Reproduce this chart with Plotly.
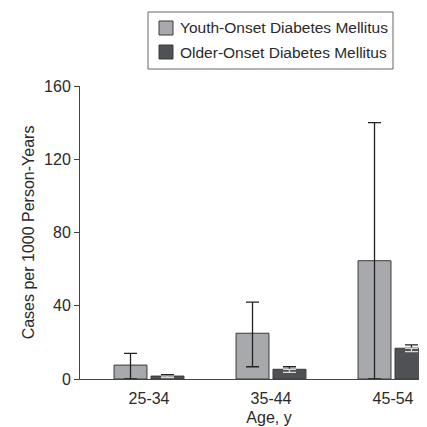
import plotly.graph_objects as go

categories = ["25-34", "35-44", "45-54"]
youth_values = [7.6, 25.0, 64.6]
youth_upper = [14.0, 42.0, 140.0]
youth_lower = [0.0, 6.7, 0.0]
older_values = [1.6, 5.3, 16.8]
older_upper = [2.4, 6.7, 18.6]
older_lower = [0.8, 3.6, 15.0]
yticks = [0, 40, 80, 120, 160]
series_names = ["Youth-Onset Diabetes Mellitus", "Older-Onset Diabetes Mellitus"]

LIGHT = "#a7a9ac"
DARK = "#4f5154"
EDGE = "#3a3a3a"
FONT = "Liberation Sans, Arial, Helvetica, sans-serif"
TXT = "#2a2a2a"

# figure geometry (pixels)
W, H = 460, 427
L, R, T, B = 72, 10, 78, 56
PW, PH = W - L - R, H - T - B


def px(xp):
    return (xp - L) / PW


def py(yp):
    return (H - B - yp) / PH


fig = go.Figure()

fig.add_trace(go.Bar(
    x=categories, y=youth_values, name=series_names[0], showlegend=False,
    width=0.27, offset=-0.287,
    marker=dict(color=LIGHT, line=dict(color=EDGE, width=1)),
    error_y=dict(type="data", symmetric=False,
                 array=[u - v for u, v in zip(youth_upper, youth_values)],
                 arrayminus=[v - l for v, l in zip(youth_values, youth_lower)],
                 color="#222222", thickness=1.3, width=6.5),
))
fig.add_trace(go.Bar(
    x=categories, y=older_values, name=series_names[1], showlegend=False,
    width=0.27, offset=0.016,
    marker=dict(color=DARK, line=dict(color=EDGE, width=1)),
    error_y=dict(type="data", symmetric=False,
                 array=[u - v for u, v in zip(older_upper, older_values)],
                 arrayminus=[0, 0, 0],
                 color="#222222", thickness=1.3, width=6.5),
))
# lower whiskers of the older-onset bars, drawn light inside the bar
fig.add_trace(go.Bar(
    x=categories, y=older_values, showlegend=False, hoverinfo="skip",
    width=0.27, offset=0.016,
    marker=dict(color="rgba(0,0,0,0)", line=dict(width=0)),
    error_y=dict(type="data", symmetric=False,
                 array=[0, 0, 0],
                 arrayminus=[v - l for v, l in zip(older_values, older_lower)],
                 color="#d8d8d8", thickness=1.3, width=6.5),
))

# legend drawn as a box with swatches and labels
shapes = [dict(type="rect", xref="paper", yref="paper",
               x0=px(140), x1=px(385), y0=py(61), y1=py(4),
               line=dict(color="#666666", width=1), fillcolor="white", layer="above")]
annotations = []
for i, (name, col) in enumerate(zip(series_names, [LIGHT, DARK])):
    cy = 20 + 24 * i
    shapes.append(dict(type="rect", xref="paper", yref="paper",
                       x0=px(151), x1=px(165), y0=py(cy + 7), y1=py(cy - 7),
                       line=dict(color=EDGE, width=1), fillcolor=col, layer="above"))
    annotations.append(dict(text=name, xref="paper", yref="paper",
                            x=px(170), y=py(cy), xanchor="left", yanchor="middle",
                            showarrow=False,
                            font=dict(family=FONT, size=15.5, color=TXT)))

fig.update_layout(
    width=W, height=H,
    margin=dict(l=L, r=R, t=T, b=B),
    barmode="overlay",
    plot_bgcolor="white", paper_bgcolor="white",
    font=dict(family=FONT, size=16, color=TXT),
    showlegend=False,
    shapes=shapes, annotations=annotations,
    xaxis=dict(type="category", range=[-0.566, -0.566 + PW / 122.0],
               showline=True, linecolor="#444444", linewidth=1,
               ticks="outside", ticklen=5, tickcolor="rgba(0,0,0,0)",
               showgrid=False, zeroline=False,
               tickfont=dict(size=16, color=TXT),
               title=dict(text="Age, y", font=dict(size=16, color=TXT), standoff=5),
               automargin=False),
    yaxis=dict(range=[0, 160], tickvals=yticks, ticktext=[str(t) for t in yticks],
               showline=True, linecolor="#444444", linewidth=1,
               ticks="outside", ticklen=5, tickcolor="#444444",
               showgrid=False, zeroline=False,
               tickfont=dict(size=16, color=TXT),
               title=dict(text="Cases per 1000 Person-Years",
                          font=dict(size=16, color=TXT), standoff=5),
               automargin=False),
)

fig.write_html("out.html")
